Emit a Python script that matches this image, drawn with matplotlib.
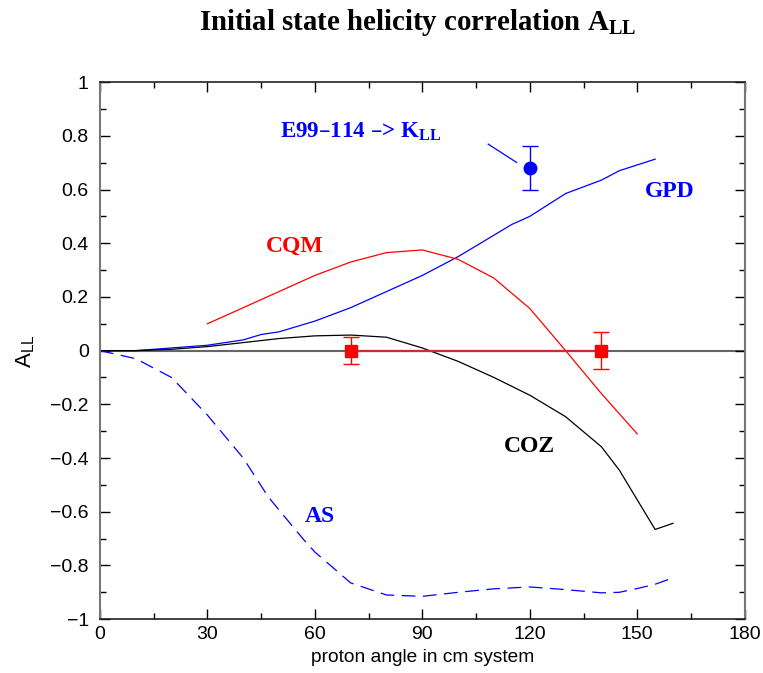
import numpy as np
import matplotlib.pyplot as plt
from matplotlib.ticker import MultipleLocator

# curves
gpd_x = [0, 10, 20, 25, 30, 35, 40, 45, 50, 60, 70, 80, 90, 100, 110, 115, 120, 130, 140, 145, 155]
gpd_y = [0, 0.0, 0.01, 0.015, 0.02, 0.03, 0.04, 0.06, 0.07, 0.11, 0.16, 0.22, 0.28, 0.35, 0.43, 0.47, 0.50, 0.585, 0.635, 0.67, 0.713]

cqm_x = [30, 40, 50, 60, 70, 80, 90, 100, 110, 120, 130, 140, 150]
cqm_y = [0.10, 0.16, 0.22, 0.28, 0.33, 0.365, 0.375, 0.34, 0.27, 0.157, 0.0, -0.16, -0.31]

coz_x = [0, 10, 20, 30, 40, 50, 60, 70, 80, 90, 100, 110, 120, 130, 140, 145, 155, 160]
coz_y = [0, 0.0, 0.005, 0.015, 0.03, 0.045, 0.055, 0.058, 0.05, 0.01, -0.04, -0.10, -0.166, -0.246, -0.358, -0.445, -0.666, -0.643]

as_x = [0, 10, 20, 30, 40, 47, 57, 60, 70, 80, 90, 100, 110, 120, 130, 140, 145, 150, 155, 160]
as_y = [0, -0.03, -0.10, -0.24, -0.40, -0.545, -0.706, -0.75, -0.865, -0.91, -0.915, -0.90, -0.887, -0.88, -0.89, -0.902, -0.90, -0.886, -0.87, -0.846]

# data points
pred_x = [70, 140]
pred_y = [0, 0]
pred_err = [0.05, 0.07]

exp_x = [120]
exp_y = [0.68]
exp_err = [0.083]

fig = plt.figure(figsize=(7.63, 6.73), dpi=100)
ax = fig.add_axes([0.131, 0.080, 0.845, 0.798])

ax.axhline(0, color='#666666', lw=1.5, zorder=1)
ax.plot(gpd_x, gpd_y, color='blue', lw=0.9)
ax.plot(cqm_x, cqm_y, color='red', lw=0.9)
ax.plot(coz_x, coz_y, color='black', lw=0.9)
ax.plot(as_x, as_y, color='blue', lw=0.9, dashes=(11, 6))

ax.plot(pred_x, pred_y, color='#c83030', lw=1.6, zorder=2)
ax.errorbar(pred_x, pred_y, yerr=pred_err, fmt='s', color='red', ms=8,
            capsize=6, elinewidth=1.0, capthick=1.0, zorder=3)
ax.errorbar(exp_x, exp_y, yerr=exp_err, fmt='o', color='blue', ms=9,
            capsize=6, elinewidth=1.0, capthick=1.0, zorder=3)
ax.plot([108.4, 116.3], [0.769, 0.701], color='blue', lw=0.9)

serif = {'family': 'Liberation Serif', 'weight': 'bold'}
ax.text(50.2, 0.815, 'E99\u2013114 \u2013> K$_{\\mathregular{LL}}$', color='blue', fontsize=16.6,
        ha='left', va='center', fontdict=serif)
ax.text(54.4, 0.387, 'CQM', color='red', fontsize=17, ha='center', va='center', fontdict=serif)
ax.text(159, 0.591, 'GPD', color='blue', fontsize=17, ha='center', va='center', fontdict=serif)
ax.text(120, -0.356, 'COZ', color='black', fontsize=17, ha='center', va='center', fontdict=serif)
ax.text(61.3, -0.619, 'AS', color='blue', fontsize=17, ha='center', va='center', fontdict=serif)

ax.set_xlim(0, 180)
ax.set_ylim(-1, 1)
ax.xaxis.set_major_locator(MultipleLocator(30))
ax.xaxis.set_minor_locator(MultipleLocator(15))
ax.yaxis.set_minor_locator(MultipleLocator(0.1))
ax.tick_params(which='major', direction='in', top=True, right=True, length=7,
               width=1, labelsize=14)
ax.tick_params(which='minor', direction='in', top=True, right=True, length=4, width=1)
ax.tick_params(axis='x', pad=5)
ax.tick_params(axis='y', pad=8)
ax.set_yticks(np.arange(-1, 1.01, 0.2))
ax.set_yticklabels(['\u22121', '\u22120.8', '\u22120.6', '\u22120.4', '\u22120.2', '0',
                    '0.2', '0.4', '0.6', '0.8', '1'])
for lab in ax.get_xticklabels() + ax.get_yticklabels():
    lab.set_family('Liberation Sans')
for side in ['left', 'right']:
    ax.spines[side].set_color('#777777')
    ax.spines[side].set_linewidth(1.5)
for side in ['top', 'bottom']:
    ax.spines[side].set_color('#222222')
    ax.spines[side].set_linewidth(1.2)

ax.set_xlabel('proton angle in cm system', fontsize=13.8, family='Liberation Sans', labelpad=4)
ax.set_ylabel(r'A$_{\mathregular{LL}}$', fontsize=16, family='Liberation Sans', rotation=90)
ax.yaxis.set_label_coords(-0.097, 0.5)
fig.text(0.547, 0.966, r'Initial state helicity correlation A$_{\mathregular{LL}}$',
         ha='center', va='center', fontsize=20.8, fontdict=serif)

fig.savefig('out.png', dpi=100)
